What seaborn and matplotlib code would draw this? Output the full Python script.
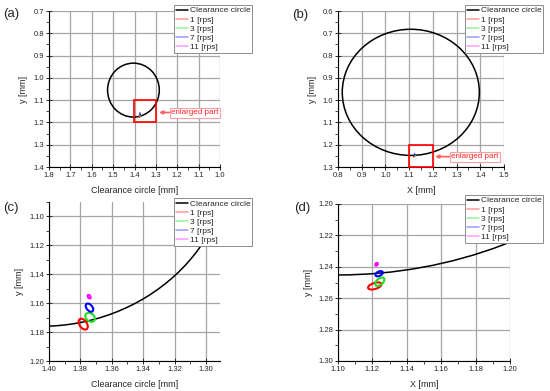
import matplotlib
matplotlib.use('Agg')
import matplotlib.pyplot as plt
from matplotlib.patches import Ellipse, Rectangle
from matplotlib.lines import Line2D
from matplotlib.ticker import MultipleLocator, AutoMinorLocator
import seaborn as sns

sns.set_style('white')
plt.rcParams['font.family'] = ['Liberation Sans', 'DejaVu Sans']

# Legend labels / colours
speeds = ['1 [rps]', '3 [rps]', '7 [rps]', '11 [rps]']
orbit_colors = ['#ff0000', '#22dd22', '#0000ff', '#ff00ff']
legend_colors = ['#ff9a9a', '#9af09a', '#9a9aff', '#ff9aff']

# Clearance circle, case 1 (panels a, c): centre x, centre y, width, height
clr1 = [1.405, 1.055, 0.242, 0.242]
# Clearance circle, case 2 (panel b) and zoomed arc (panel d)
clr2 = [1.107, 0.965, 0.578, 0.566]
clr2_zoom = [1.100, 0.9952, 0.50, 0.50]

# Orbits case 1 (rps 1, 3, 7, 11): centre x, centre y, width, height, tilt
orb1_x = [1.3782, 1.3738, 1.3742, 1.3744]
orb1_y = [1.1745, 1.1698, 1.1631, 1.1555]
orb1_w = [0.0082, 0.0070, 0.0064, 0.0026]
orb1_h = [0.0048, 0.0052, 0.0038, 0.0016]
orb1_a = [-60, -45, -55, -60]

# Orbits case 2
orb2_x = [1.1214, 1.1243, 1.1239, 1.1224]
orb2_y = [1.2522, 1.2495, 1.2444, 1.2384]
orb2_w = [0.0082, 0.0066, 0.0047, 0.0019]
orb2_h = [0.0038, 0.0037, 0.0027, 0.0013]
orb2_a = [-20, -45, -30, -60]

W, H = 550, 391
fig = plt.figure(figsize=(5.5, 3.91), dpi=100)


def px_axes(l, t, r, b):
    return fig.add_axes([l / W, 1 - b / H, (r - l) / W, (b - t) / H])


def style(ax, xlim, ylim, xstep, ystep, xlabel):
    ax.set_xlim(*xlim)
    ax.set_ylim(*ylim)
    ax.xaxis.set_major_locator(MultipleLocator(xstep))
    ax.yaxis.set_major_locator(MultipleLocator(ystep))
    ax.xaxis.set_minor_locator(AutoMinorLocator(2))
    ax.yaxis.set_minor_locator(AutoMinorLocator(2))
    ax.grid(True, which='major', color='#a6a6a6', lw=0.9)
    ax.set_axisbelow(True)
    for s in ['top', 'right']:
        ax.spines[s].set_visible(False)
    for s in ['left', 'bottom']:
        ax.spines[s].set_color('black')
        ax.spines[s].set_linewidth(0.8)
    ax.tick_params(which='major', direction='inout', length=4, width=0.7,
                   labelsize=5.5, pad=1.5, left=True, bottom=True)
    ax.tick_params(which='minor', direction='out', length=2, width=0.6,
                   left=True, bottom=True)
    ax.set_xlabel(xlabel, fontsize=6.5, labelpad=5)
    ax.set_ylabel('y [mm]', fontsize=6.5, labelpad=4)


def draw(ax, clr, ox, oy, ow, oh, oa, lw_orb):
    ax.add_patch(Ellipse((clr[0], clr[1]), clr[2], clr[3], fill=False,
                         ec='black', lw=1.1, zorder=3))
    for i in range(len(speeds)):
        ax.add_patch(Ellipse((ox[i], oy[i]), ow[i], oh[i], angle=oa[i],
                             fill=False, ec=orbit_colors[i], lw=lw_orb, zorder=4))


def legend(ax, right, top):
    handles = [Line2D([], [], color='black', lw=1.1)]
    handles += [Line2D([], [], color=c, lw=1.1) for c in legend_colors]
    leg = ax.legend(handles, ['Clearance circle'] + speeds, loc='upper right',
                    bbox_to_anchor=(right / W, 1 - top / H),
                    bbox_transform=fig.transFigure, fontsize=6,
                    fancybox=False, edgecolor='#8c8c8c', framealpha=1,
                    borderpad=0.2, handlelength=1.5, handletextpad=0.2,
                    labelspacing=0.15, borderaxespad=0)
    leg.get_frame().set_linewidth(0.7)


def callout(ax, xy, xytext):
    ax.annotate('enlarged part', xy=xy, xytext=xytext, fontsize=5.8,
                color='#ff2020', ha='center', va='center', zorder=6,
                bbox=dict(boxstyle='square,pad=0.2', fc='white',
                          ec='#ffa0a0', lw=0.8),
                arrowprops=dict(arrowstyle='-|>', color='#ff6060', lw=1.2,
                                mutation_scale=5, shrinkA=0, shrinkB=0))


# (a)
ax = px_axes(49, 11, 220, 167)
style(ax, (1.8, 1.0), (1.4, 0.7), 0.1, 0.1, 'Clearance circle [mm]')
draw(ax, clr1, orb1_x, orb1_y, orb1_w, orb1_h, orb1_a, 0.6)
ax.add_patch(Rectangle((1.3, 1.1), 0.1, 0.1, fill=False, ec='#ff0000',
                       lw=1.2, zorder=5))
callout(ax, (1.285, 1.155), (1.117, 1.157))
legend(ax, 252, 5)

# (b)
ax = px_axes(338, 11, 504, 167)
style(ax, (0.8, 1.5), (1.3, 0.6), 0.1, 0.1, 'X [mm]')
draw(ax, clr2, orb2_x, orb2_y, orb2_w, orb2_h, orb2_a, 0.6)
ax.add_patch(Rectangle((1.1, 1.2), 0.1, 0.1, fill=False, ec='#ff0000',
                       lw=1.2, zorder=5, clip_on=False))
callout(ax, (1.21, 1.253), (1.378, 1.255))
legend(ax, 543, 5)

# (c)
ax = px_axes(49, 202, 220, 361)
style(ax, (1.40, 1.291), (1.20, 1.09), 0.02, 0.02, 'Clearance circle [mm]')
draw(ax, clr1, orb1_x, orb1_y, orb1_w, orb1_h, orb1_a, 1.5)
legend(ax, 252, 198)

# (d)
ax = px_axes(338, 204, 510, 361)
style(ax, (1.10, 1.20), (1.30, 1.20), 0.02, 0.02, 'X [mm]')
draw(ax, clr2_zoom, orb2_x, orb2_y, orb2_w, orb2_h, orb2_a, 1.5)
legend(ax, 543, 195)

for lab, x, y in [('(a)', 3, 14), ('(b)', 292, 15), ('(c)', 3, 208), ('(d)', 294, 208)]:
    fig.text(x / W, 1 - y / H, lab, fontsize=9.5, va='center', ha='left')

fig.savefig('out.png', dpi=100, facecolor='white')
